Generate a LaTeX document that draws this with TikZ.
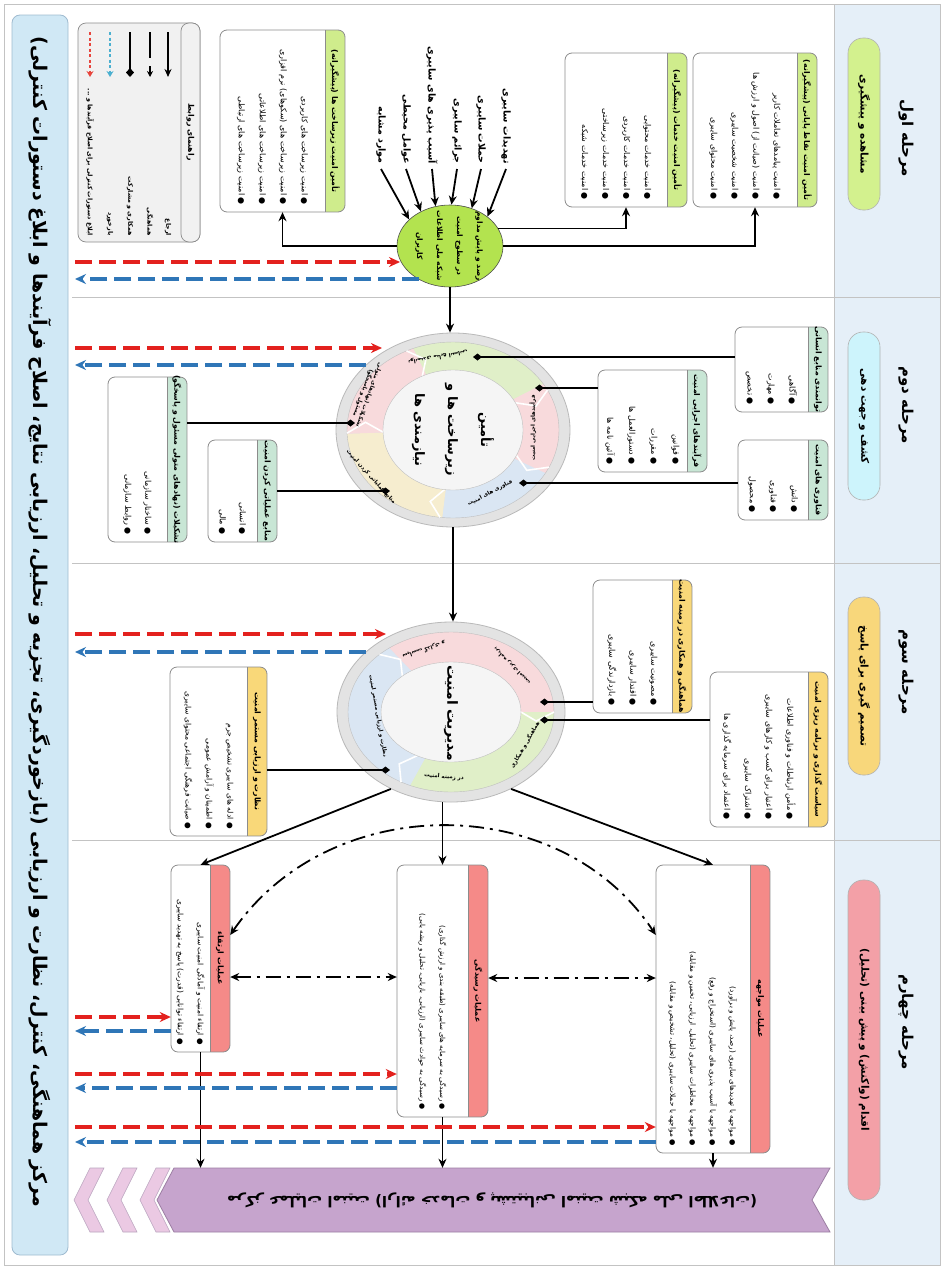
\documentclass[tikz,border=0pt]{standalone}
\usepackage{fontspec}
\usetikzlibrary{arrows.meta,shapes.geometric}
\newfontfamily\fa[Script=Arabic]{DejaVu Sans}
\TeXXeTstate=1
\newcommand{\rl}[1]{\beginR#1\endR}
\newcommand{\fz}[2]{\fa\fontsize{#1}{#2}\selectfont}
\newcommand{\hdfont}{\fa\bfseries\fontsize{7.8}{9}\selectfont}
\definecolor{phasebg}{HTML}{E5EFF8}
\definecolor{stripbg}{HTML}{D0E8F5}
\definecolor{stripbd}{HTML}{9FBBD0}
\definecolor{pillA}{HTML}{D3F18E}
\definecolor{pillB}{HTML}{CDF4FC}
\definecolor{pillC}{HTML}{F8D77B}
\definecolor{pillD}{HTML}{F3A0A7}
\definecolor{hdA}{HTML}{CFEC8C}
\definecolor{hdB}{HTML}{C8E6D5}
\definecolor{hdC}{HTML}{F9D879}
\definecolor{hdD}{HTML}{F58A88}
\definecolor{ellg}{HTML}{B3E34F}
\definecolor{rarr}{HTML}{E3211E}
\definecolor{barr}{HTML}{2F76B7}
\definecolor{lred}{HTML}{E8453C}
\definecolor{lblue}{HTML}{4BB0D0}
\definecolor{banfill}{HTML}{C6A4CD}
\definecolor{banbd}{HTML}{9C7FA3}
\definecolor{chevfill}{HTML}{EBC9E3}
\definecolor{legbg}{HTML}{F1F1F1}
\definecolor{boxline}{HTML}{8C8C8C}
\definecolor{sepline}{HTML}{C3C3C3}
\definecolor{ringgray}{HTML}{E3E3E3}
\definecolor{innerf}{HTML}{F5F5F5}
\definecolor{sgGreen}{HTML}{E0EFC8}
\definecolor{sgPink}{HTML}{F8DADC}
\definecolor{sgBlue}{HTML}{DAE6F3}
\definecolor{sgCream}{HTML}{F6EDCF}

% name, x1, y1, x2, y2, header colour, header, body, body font
\newcommand{\pbox}[9]{%
  \node[fill=white, minimum width={#4-#2}, minimum height={#5-#3}, rounded corners=7pt, inner sep=0pt] (#1) at ({(#2+#4)/2},{(#3+#5)/2}) {};
  \begin{scope}
    \clip[rounded corners=7pt] (#2,#3) rectangle (#4,#5);
    \fill[#6] ({#4-20},#3) rectangle (#4,#5);
  \end{scope}
  \draw[boxline, rounded corners=7pt, line width=0.8pt] (#2,#3) rectangle (#4,#5);
  \draw[boxline, line width=0.6pt] ({#4-20},#3) -- ({#4-20},#5);
  \node[rt, font=\hdfont] at ({#4-10},{(#3+#5)/2}) {#7};
  \node[rt, anchor=east, align=right, font=#9] at ({(#2+#4-20)/2},{#5-6}) {#8};
}

\begin{document}
\begin{tikzpicture}[x=1pt,y=-1pt,
  every node/.style={inner sep=1pt},
  rt/.style={rotate=-90},
  arr/.style={line width=1.8pt,black,-{Stealth[length=9pt,width=8pt]}},
  dia/.style={line width=1.8pt,black,-{Diamond[length=9pt,width=7pt]}},
  redd/.style={line width=3.5pt,rarr,dash pattern=on 17pt off 7pt,-{Stealth[length=11pt,width=10pt]}},
  blued/.style={line width=3.5pt,barr,dash pattern=on 17pt off 7pt,-{Stealth[length=11pt,width=10pt]}},
  dd/.style={line width=1.8pt,black,dash pattern=on 15pt off 6pt on 3pt off 6pt,{Stealth[length=9pt,width=8pt]}-{Stealth[length=9pt,width=8pt]}},
  pill/.style={rotate=-90,rounded corners=15pt,draw=gray!60,line width=0.6pt,minimum height=32,inner sep=0pt,font=\fa\bfseries\fontsize{10.5}{12}\selectfont},
  phead/.style={rotate=-90,font=\fa\bfseries\fontsize{15}{17}\selectfont},
  threat/.style={rotate=-90,anchor=east,font=\fa\bfseries\fontsize{9.5}{11}\selectfont},
  legtxt/.style={rotate=-90,anchor=east,font=\fa\bfseries\fontsize{6.3}{7}\selectfont},
  ringtxt/.style={font=\fa\bfseries\fontsize{5.5}{6.5}\selectfont,align=center},
  ctr/.style={rotate=-90,align=center,font=\fa\bfseries\fontsize{13}{33}\selectfont},
]
\useasboundingbox (0,0) rectangle (944,1269);
\fill[white] (0,0) rectangle (944,1269);

% ---------- frame, phase column, separators
\fill[phasebg] (834,4) rectangle (940,1265);
\draw[sepline] (4,4) rectangle (940,1265);
\draw[sepline] (834,4) -- (834,1265);
\foreach \yy in {297,563,840} \draw[sepline,line width=1pt] (72,\yy) -- (940,\yy);

% ---------- phase labels
\node[phead] (h1) at (906,138) {\rl{مرحله اول}};
\node[phead] (h2) at (906,405) {\rl{مرحله دوم}};
\node[phead] (h3) at (906,672) {\rl{مرحله سوم}};
\node[phead] (h4) at (906,1022) {\rl{مرحله چهارم}};
\node[pill,fill=pillA,minimum width=172] (p1) at (864,124) {\rl{مشاهده و پیشگیری}};
\node[pill,fill=pillB,minimum width=168] (p2) at (864,416) {\rl{کشف و جهت دهی}};
\node[pill,fill=pillC,minimum width=178] (p3) at (864,686) {\rl{تصمیم گیری برای پاسخ}};
\node[pill,fill=pillD,minimum width=320] (p4) at (864,1040) {\rl{اقدام (واکنش) و پیش بینی (تحلیل)}};

% ---------- left strip
\node[fill=stripbg,draw=stripbd,rounded corners=8pt,minimum width=56,minimum height=1240,line width=0.8pt,inner sep=0pt] (strip) at (40,635) {};
\node[rt] (striptxt) at (40,622) {\resizebox{1170pt}{!}{\fa\bfseries\rl{مرکز هماهنگی، کنترل، نظارت و ارزیابی (بازخوردگیری، تجزیه و تحلیل، ارزیابی نتایج، اصلاح فرآیندها و ابلاغ دستورات کنترلی)}}};
\coordinate (lx) at (75,0);

% ---------- legend
\draw[fill=legbg,draw=boxline,rounded corners=8pt,line width=0.7pt] (78,23) rectangle (200,242);
\draw[fill=legbg,draw=boxline,rounded corners=8pt,line width=0.7pt] (181,23) rectangle (200,242);
\node[rt,font=\hdfont] (legh) at (190.5,132) {\rl{راهنمای روابط}};
\draw[line width=2.2pt,-{Stealth[length=8pt,width=7pt]}] (168,32) -- (168,77);
\draw[line width=2.2pt] (150,32) -- (150,58);
\draw[line width=2.2pt,-{Stealth[length=6pt,width=6pt]}] (150,66) -- (150,77);
\draw[line width=2pt,-{Diamond[length=9pt,width=8pt]}] (130,32) -- (130,77);
\draw[line width=2pt,lblue,dash pattern=on 3pt off 2.5pt,-{Stealth[length=6pt,width=7pt]}] (110,32) -- (110,77);
\draw[line width=2pt,lred,dash pattern=on 3pt off 2.5pt,-{Stealth[length=6pt,width=7pt]}] (90,32) -- (90,77);
\node[legtxt] (lg1) at (168,237) {\rl{ارجاع}};
\node[legtxt] (lg2) at (150,237) {\rl{هماهنگی}};
\node[legtxt] (lg3) at (130,237) {\rl{همکاری و مشارکت}};
\node[legtxt] (lg4) at (110,237) {\rl{بازخورد}};
\node[legtxt] (lg5) at (90,237) {\rl{ابلاغ دستورات کنترلی برای اصلاح فرآیندها و ...}};

% ---------- phase 1
\pbox{A}{220}{30}{345}{212}{hdA}{\rl{تأمین امنیت زیرساخت ها (پیشگیرانه)}}{\rl{● امنیت زیرساخت های کاربردی}\\\rl{● امنیت زیرساخت های (سکوهای) نرم افزاری}\\\rl{● امنیت زیرساخت های اطلاعاتی}\\\rl{● امنیت زیرساخت های ارتباطی}}{\fz{8}{21}}
\pbox{B}{565}{53}{687}{207}{hdA}{\rl{تأمین امنیت خدمات (پیشگیرانه)}}{\rl{● امنیت خدمات محتوایی}\\\rl{● امنیت خدمات کاربردی}\\\rl{● امنیت خدمات زیرساختی}\\\rl{● امنیت خدمات شبکه}}{\fz{8}{21}}
\pbox{C}{693}{53}{817}{207}{hdA}{\rl{تأمین امنیت نقاط پایانی (پیشگیرانه)}}{\rl{● امنیت پیامدهای تعاملات کاربر}\\\rl{● امنیت (صیانت از) اصول و ارزش ها}\\\rl{● امنیت شخصیت سایبری}\\\rl{● امنیت محتوای سایبری}}{\fz{8}{21}}

\node[ellipse,fill=ellg,draw=gray!60!black,line width=0.6pt,minimum width=106,minimum height=82,inner sep=0pt] (ell) at (450,246) {};
\node[rt,align=center,font=\fa\bfseries\fontsize{7.5}{20}\selectfont] (elltxt) at (449,246) {\rl{رصد و پایش مداوم}\\\rl{در سطوح امنیت}\\\rl{شبکه ملی اطلاعات}\\\rl{کاربران}};

\node[threat] (t1) at (506,165) {\rl{تهدیدات سایبری}};
\node[threat] (t2) at (481,165) {\rl{حملات سایبری}};
\node[threat] (t3) at (457,165) {\rl{جرائم سایبری}};
\node[threat] (t4) at (432,165) {\rl{آسیب پذیری های سایبری}};
\node[threat] (t5) at (406,165) {\rl{عوامل محیطی}};
\node[threat] (t6) at (381,165) {\rl{موارد مشابه}};
\draw[arr] ([yshift=-4pt]t1.east) -- (ell.38);
\draw[arr] ([yshift=-4pt]t2.east) -- (ell.60);
\draw[arr] ([yshift=-4pt]t3.east) -- (ell.88);
\draw[arr] ([yshift=-4pt]t4.east) -- (ell.110);
\draw[arr] ([yshift=-4pt]t5.east) -- (ell.130);
\draw[arr] ([yshift=-4pt]t6.east) -- (ell.147);
\draw[arr] (ell.west) -| (A.south);
\draw[arr] (ell.20) -| (B.south);
\draw[arr] (ell.east) -| (C.south);

% ---------- phase 2 circle
\node[ellipse,fill=ringgray,draw=gray!55,line width=0.8pt,minimum width=234,minimum height=194,inner sep=0pt] (c1) at (453,430) {};
\begin{scope}[shift={(453,430)}]
  \begin{scope}
    \clip (0,0) ellipse [x radius=106, y radius=88];
    \fill[sgGreen] (0,0) -- (-27:250) -- (-71:250) -- (-116:250) -- cycle;
    \fill[sgPink]  (0,0) -- (27:250) -- (0:250) -- (-27:250) -- cycle;
    \fill[sgBlue]  (0,0) -- (97:250) -- (61:250) -- (25:250) -- cycle;
    \fill[sgCream] (0,0) -- (-182:250) -- (-222:250) -- (-263:250) -- cycle;
    \fill[sgPink]  (0,0) -- (-116:250) -- (-149:250) -- (-182:250) -- cycle;
  \end{scope}
  \draw[gray!50] (0,0) ellipse [x radius=106, y radius=88];
  \foreach \b in {27,116,182,263,335}
    \draw[white,line width=1.6pt] ({-\b}:70 and 60) -- ({-\b+8}:88 and 74) -- ({-\b}:106 and 88);
  \filldraw[fill=innerf,draw=gray!50] (0,0) ellipse [x radius=70, y radius=60];
\end{scope}
\node[ctr] (c1txt) at (453,430) {\rl{تأمین}\\\rl{زیرساخت ها و}\\\rl{نیازمندی ها}};
\node[ringtxt,rotate=190] at (438,357) {\rl{توانمندی منابع انسانی}};
\node[ringtxt,rotate=90] at (533,428) {\rl{فرآیندهای اجرایی امنیت}};
\node[ringtxt,rotate=28] at (490,493) {\rl{فناوری های امنیت}};
\node[ringtxt,rotate=-48] at (371,477) {\rl{منابع عملیاتی کردن امنیت}};
\node[ringtxt,rotate=-110] at (366,394) {\rl{تشکیلات (نهادهای متولی}\\\rl{مسئول و پاسخگو)}};

\pbox{D}{735}{327}{828}{412}{hdB}{\rl{توانمندی منابع انسانی}}{\rl{● آگاهی}\\\rl{● مهارت}\\\rl{● تخصص}}{\fz{8}{21}}
\pbox{E}{598}{370}{707}{472}{hdB}{\rl{فرآیندهای اجرایی امنیت}}{\rl{● قوانین}\\\rl{● مقررات}\\\rl{● دستورالعمل ها}\\\rl{● آئین نامه ها}}{\fz{8}{22}}
\pbox{F}{738}{440}{828}{520}{hdB}{\rl{فناوری های امنیت}}{\rl{● دانش}\\\rl{● فناوری}\\\rl{● محصول}}{\fz{8}{21}}
\pbox{G}{108}{377}{187}{542}{hdB}{\rl{تشکیلات (نهادهای متولی مسئول و پاسخگو)}}{\rl{● ساختار سازمانی}\\\rl{● روابط سازمانی}}{\fz{8}{20}}
\pbox{H}{208}{440}{277}{542}{hdB}{\rl{منابع عملیاتی کردن امنیت}}{\rl{● انسانی}\\\rl{● مالی}}{\fz{8}{20}}

\coordinate (dD) at (473,357);
\coordinate (dE) at (535,388);
\coordinate (dF) at (519,483);
\coordinate (dG) at (355,423);
\coordinate (dH) at (390,491);
\draw[dia] (D.west |- dD) -- (dD);
\draw[dia] (E.west |- dE) -- (dE);
\draw[dia] (F.west |- dF) -- (dF);
\draw[dia] (G.east |- dG) -- (dG);
\draw[dia] (H.east |- dH) -- (dH);

% ---------- phase 3 circle
\node[ellipse,fill=ringgray,draw=gray!55,line width=0.8pt,minimum width=228,minimum height=180,inner sep=0pt] (c2) at (451,712) {};
\begin{scope}[shift={(451,712)}]
  \begin{scope}
    \clip (0,0) ellipse [x radius=103, y radius=80];
    \fill[sgPink]  (0,0) -- (0:250) -- (-67:250) -- (-134:250) -- cycle;
    \fill[sgBlue]  (0,0) -- (-134:250) -- (-187:250) -- (-241:250) -- cycle;
    \fill[sgGreen] (0,0) -- (-241:250) -- (-300:250) -- (-360:250) -- cycle;
  \end{scope}
  \draw[gray!50] (0,0) ellipse [x radius=103, y radius=80];
  \foreach \b in {0,134,241}
    \draw[white,line width=1.6pt] ({-\b}:70 and 50) -- ({-\b+8}:86 and 65) -- ({-\b}:103 and 80);
  \filldraw[fill=innerf,draw=gray!50] (0,0) ellipse [x radius=70, y radius=50];
\end{scope}
\node[rt,font=\fa\bfseries\fontsize{14}{16}\selectfont] (c2txt) at (451,713) {\rl{مدیریت امنیت}};
\node[ringtxt,rotate=198] at (424,650) {\rl{سیاست گذاری و}};
\node[ringtxt,rotate=135] at (512,666) {\rl{برنامه ریزی امنیت}};
\node[ringtxt,rotate=-80] at (378,716) {\rl{نظارت و ارزیابی مستمر امنیت}};
\node[ringtxt,rotate=60] at (525,745) {\rl{هماهنگی و همکاری}};
\node[ringtxt,rotate=-5] at (444,777) {\rl{در زمینه امنیت}};

\pbox{I}{593}{580}{692}{713}{hdC}{\rl{هماهنگی و همکاری در زمینه امنیت}}{\rl{● مصونیت سایبری}\\\rl{● اقتدار سایبری}\\\rl{● بازدارندگی سایبری}}{\fz{8}{21}}
\pbox{J}{710}{672}{828}{827}{hdC}{\rl{سیاست گذاری و برنامه ریزی امنیت}}{\rl{● مأمن ارتباطات و فناوری اطلاعات}\\\rl{● اعتبار برای کسب و کارهای سایبری}\\\rl{● اشتراک سایبری}\\\rl{● اعتماد برای سرمایه گذاری ها}}{\fz{8}{21}}
\pbox{K}{170}{667}{267}{836}{hdC}{\rl{نظارت و ارزیابی مستمر امنیت}}{\rl{● ادله های سایبری تشخیص جرم}\\\rl{● اطمینان و آرامش عمومی}\\\rl{● صیانت فرهنگی اجتماعی محتوای سایبری}}{\fz{7.6}{21}}

\coordinate (dI) at (540,702);
\coordinate (dJ) at (540,720);
\coordinate (dK) at (390,770);
\draw[dia] (I.west |- dI) -- (dI);
\draw[dia] (J.west |- dJ) -- (dJ);
\draw[dia] (K.east |- dK) -- (dK);

% ---------- phase 4 boxes
\pbox{L}{171}{865}{230}{1052}{hdD}{\rl{عملیات ارتقاء}}{\rl{● ارتقاء امنیت و آمادگی امنیت سایبری}\\\rl{● ارتقاء توانایی (قدرت) پاسخ به تهدید سایبری}}{\fz{7.5}{20}}
\pbox{M}{397}{865}{488}{1117}{hdD}{\rl{عملیات رسیدگی}}{\rl{● رسیدگی به سرمایه های سایبری (طبقه بندی و ارزش گذاری)}\\\rl{● رسیدگی به حوادث سایبری (ارزیابی، بازیابی، تحلیل و ریشه یابی)}}{\fz{7}{20}}
\pbox{N}{656}{865}{770}{1153}{hdD}{\rl{عملیات مواجهه}}{\rl{● مواجهه با تهدیدهای سایبری (رصد، پایش و برآورد)}\\\rl{● مواجهه با آسیب پذیری های سایبری (استخراج و رفع)}\\\rl{● مواجهه با مخاطرات سایبری (تحلیل، ارزیابی، تخمین و مقابله)}\\\rl{● مواجهه با حملات سایبری (تحلیل، تشخیص و مقابله)}}{\fz{7.3}{20}}

% ---------- banner
\foreach \r in {170,137,104}
  \fill[chevfill,draw=banbd!70,line width=0.6pt] (\r,1168) -- ({\r-14},1168) -- ({\r-30},1200) -- ({\r-14},1232) -- (\r,1232) -- ({\r-16},1200) -- cycle;
\fill[banfill,draw=banbd,line width=0.8pt] (174,1168) -- (830,1168) -- (812,1200) -- (830,1232) -- (174,1232) -- (157,1200) -- cycle;
\node[minimum width=650,minimum height=64,inner sep=0pt] (ban) at (493,1200) {};
\node[rotate=180,font=\fa\bfseries\fontsize{15}{17}\selectfont] (bantxt) at (492,1200) {\rl{مرکز عملیات امنیت (ارائه خدمات و پشتیبانی امنیت شبکه ملی اطلاعات)}};

% ---------- main flow arrows
\draw[arr] (ell.south) -- (ell.south |- c1.north);
\draw[arr] (c1.south) -- (c1.south |- c2.north);
\draw[arr] (c2.-128) -- (L.north);
\draw[arr] (c2.south -| M.north) -- (M.north);
\draw[arr] (c2.-52) -- (N.north);
\draw[arr] (L.south) -- (L.south |- ban.north);
\draw[arr] (M.south) -- (M.south |- ban.north);
\draw[arr] (N.south) -- (N.south |- ban.north);
\draw[dd] (L.east |- 0,935) .. controls (330,790) and (560,790) .. (N.west |- 0,935);
\draw[dd] (L.east |- 0,977) -- (M.west |- 0,977);
\draw[dd] (M.east |- 0,978) -- (N.west |- 0,978);

% ---------- control / feedback arrows
\coordinate (r1) at (400,262); \coordinate (b1) at (419,279);
\coordinate (r2) at (382,348); \coordinate (b2) at (366,365);
\coordinate (r3) at (386,634); \coordinate (b3) at (366,652);
\draw[redd] (lx |- r1) -- (r1);
\draw[blued] (b1) -- (lx |- b1);
\draw[redd] (lx |- r2) -- (r2);
\draw[blued] (b2) -- (lx |- b2);
\draw[redd] (lx |- r3) -- (r3);
\draw[blued] (b3) -- (lx |- b3);
\draw[redd] (lx |- 0,1017) -- (L.west |- 0,1017);
\draw[blued] (L.west |- 0,1031) -- (lx |- 0,1031);
\draw[redd] (lx |- 0,1074) -- (M.west |- 0,1074);
\draw[blued] (M.west |- 0,1088) -- (lx |- 0,1088);
\draw[redd] (lx |- 0,1127) -- (N.west |- 0,1127);
\draw[blued] (N.west |- 0,1142) -- (lx |- 0,1142);
\end{tikzpicture}
\end{document}
